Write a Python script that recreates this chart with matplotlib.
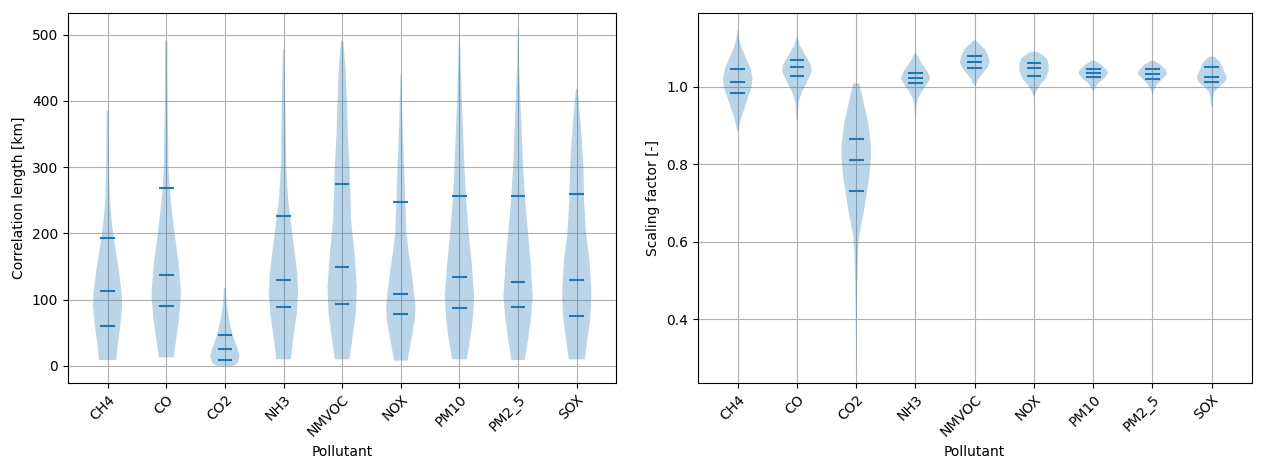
import numpy as np
import matplotlib
matplotlib.use("Agg")
import matplotlib.pyplot as plt

pollutants = ["CH4", "CO", "CO2", "NH3", "NMVOC", "NOX", "PM10", "PM2_5", "SOX"]

# correlation length [km]: violin outline (y, relative half width)
corr_y = [
    [9, 30, 60, 90, 110, 140, 170, 195, 220, 250, 300, 386],
    [13, 40, 70, 105, 120, 160, 200, 240, 270, 300, 400, 491],
    [0, 1, 5, 15, 25, 45, 70, 95, 118],
    [10, 45, 80, 110, 140, 170, 210, 250, 300, 400, 478],
    [10, 50, 80, 120, 170, 220, 300, 350, 400, 450, 491],
    [8, 40, 70, 90, 110, 140, 170, 200, 250, 300, 350, 400, 441],
    [10, 40, 70, 105, 120, 160, 200, 250, 300, 350, 400, 451, 501],
    [9, 40, 70, 105, 120, 160, 200, 250, 300, 350, 400, 451, 507],
    [10, 40, 70, 105, 120, 160, 200, 250, 300, 350, 400, 418],
]
corr_w = [
    [26, 30, 38, 44, 42, 35, 26, 18, 12, 7, 4, 3],
    [22, 30, 38, 44, 43, 36, 25, 16, 10, 7, 4, 3],
    [20, 28, 38, 43, 38, 24, 12, 5, 3],
    [22, 30, 40, 44, 41, 34, 24, 14, 8, 5, 2],
    [22, 33, 41, 44, 37, 27, 22, 17, 14, 10, 3],
    [20, 32, 42, 44, 40, 33, 24, 17, 13, 10, 6, 3, 1],
    [22, 32, 40, 44, 42, 36, 28, 20, 15, 11, 7, 4, 1],
    [20, 30, 38, 44, 42, 37, 30, 21, 15, 11, 7, 3, 1],
    [24, 32, 40, 44, 43, 38, 28, 22, 20, 14, 6, 2],
]
corr_q = [
    [59.6, 112.7, 193.4],
    [91.2, 136.8, 269.0],
    [9.0, 25.0, 46.0],
    [89.7, 129.3, 227.0],
    [93.7, 148.8, 275.0],
    [78.7, 108.2, 247.5],
    [87.2, 134.8, 257.0],
    [89.7, 126.3, 256.0],
    [75.7, 129.3, 259.0],
]

# scaling factor [-]
scale_y = [
    [0.884, 0.893, 0.919, 0.944, 0.970, 0.996, 1.021, 1.047, 1.073, 1.099, 1.124, 1.146],
    [0.914, 0.936, 0.961, 0.987, 1.013, 1.039, 1.056, 1.081, 1.107, 1.130],
    [0.280, 0.357, 0.443, 0.494, 0.563, 0.614, 0.666, 0.717, 0.769, 0.820, 0.854, 0.906, 0.957, 1.009],
    [0.919, 0.927, 0.953, 0.970, 0.987, 1.004, 1.021, 1.039, 1.056, 1.073, 1.086],
    [1.004, 1.021, 1.034, 1.051, 1.064, 1.080, 1.097, 1.114, 1.120],
    [0.975, 0.987, 1.004, 1.021, 1.039, 1.056, 1.073, 1.085, 1.090],
    [0.987, 0.996, 1.009, 1.021, 1.034, 1.043, 1.056, 1.067],
    [0.979, 0.991, 1.004, 1.021, 1.034, 1.043, 1.056, 1.067],
    [0.949, 0.957, 0.974, 0.987, 1.000, 1.013, 1.026, 1.047, 1.064, 1.077],
]
scale_w = [
    [1, 3, 10, 20, 30, 40, 44, 38, 25, 12, 4, 1],
    [2, 3, 5, 15, 30, 44, 42, 25, 8, 1],
    [0.5, 1, 2, 3, 5, 8, 20, 29, 38, 43, 42, 35, 22, 9],
    [1, 1.5, 3, 8, 18, 32, 44, 36, 22, 10, 3],
    [3, 12, 24, 39, 44, 40, 30, 10, 2],
    [2, 6, 18, 34, 43, 44, 38, 20, 8],
    [1, 5, 15, 32, 44, 40, 25, 5],
    [1, 4, 12, 30, 44, 40, 25, 5],
    [1, 3, 4, 8, 22, 40, 44, 33, 25, 8],
]
scale_q = [
    [0.983, 1.012, 1.045],
    [1.027, 1.050, 1.069],
    [0.731, 0.811, 0.865],
    [1.010, 1.023, 1.036],
    [1.048, 1.064, 1.078],
    [1.028, 1.048, 1.062],
    [1.026, 1.036, 1.046],
    [1.019, 1.033, 1.046],
    [1.012, 1.024, 1.050],
]


def make_stats(ys, ws, qs):
    stats = []
    for y, w, q in zip(ys, ws, qs):
        stats.append(
            {
                "coords": np.array(y, dtype=float),
                "vals": np.array(w, dtype=float),
                "mean": q[1],
                "median": q[1],
                "min": y[0],
                "max": y[-1],
                "quantiles": np.array(q, dtype=float),
            }
        )
    return stats


def draw_panel(ax, ys, ws, qs, ylabel):
    positions = np.arange(1, len(pollutants) + 1)
    ax.violin(make_stats(ys, ws, qs), positions=positions, showextrema=False)
    ax.set_xticks(positions)
    ax.set_xticklabels(pollutants, rotation=45, ha="right", rotation_mode="anchor")
    ax.set_xlabel("Pollutant")
    ax.set_ylabel(ylabel)
    ax.grid(True)
    ax.set_axisbelow(True)


fig = plt.figure(figsize=(12.64, 4.69), dpi=100)
ax1 = fig.add_axes([0.0538, 0.184, 0.4338, 0.7876])
ax2 = fig.add_axes([0.552, 0.184, 0.4383, 0.7876])

draw_panel(ax1, corr_y, corr_w, corr_q, "Correlation length [km]")
draw_panel(ax2, scale_y, scale_w, scale_q, "Scaling factor [-]")

fig.savefig("out.png", dpi=100)
